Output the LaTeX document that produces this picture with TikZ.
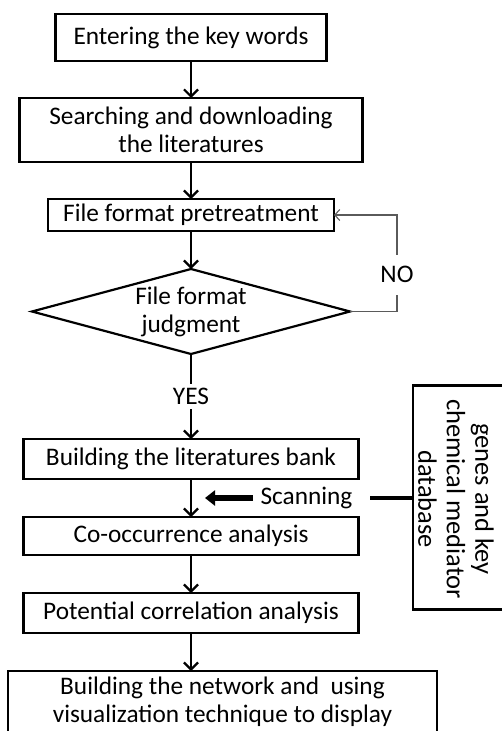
\documentclass[tikz,border=0pt]{standalone}
\usepackage{fontspec}
\setmainfont{Carlito}
\usetikzlibrary{shapes.geometric,arrows.meta,positioning,calc}
\definecolor{loopgray}{HTML}{5A5A5A}

\begin{document}
\begin{tikzpicture}[
    x=1pt,y=-1pt,
    node distance=38pt,
    font=\fontsize{25.3}{28}\selectfont,
    box/.style={draw,line width=2.2pt,inner sep=0pt,outer sep=0pt,align=center,minimum width=335pt,minimum height=40pt},
    decide/.style={draw,diamond,line width=2.2pt,inner sep=-10pt,outer sep=0pt,align=center,minimum width=318pt,minimum height=85pt,aspect=3.74},
    arrow/.style={-{Straight Barb[length=7pt,width=14pt]},line width=2.2pt},
    back/.style={-{Straight Barb[length=5pt,width=11pt]},draw=loopgray,line width=1.1pt},
    tag/.style={fill=white,inner xsep=3pt}
  ]
    \useasboundingbox (0,0) rectangle (502,731);
    \node[box,minimum width=271pt,minimum height=47pt] (keys) at (191,37.5) {Entering the key words};
    \node[box,minimum width=343pt,minimum height=64pt,below=37pt of keys] (search) {Searching and downloading\\the literatures};
    \node[box,minimum width=286pt,minimum height=32pt,below=37pt of search] (pretreat) {File format pretreatment};
    \node[decide,below=of pretreat] (judge) {File format\\judgment};
    \node[box,below=85pt of judge] (bank) {Building the literatures bank};
    \node[box,minimum height=38pt,below=of bank] (cooc) {Co-occurrence analysis};
    \node[box,below=of cooc] (corr) {Potential correlation analysis};
    \node[box,minimum width=429pt,minimum height=62pt,below=of corr,xshift=31.5pt] (net) {Building the network and \ using\\visualization technique to display};
    % database box, text set apart so it sits a bit left of the middle
    \node[box,rotate=-90,minimum width=224pt,minimum height=90pt] (db) at (458,497.5) {};
    \node[rotate=-90,align=center,font=\fontsize{26.5}{28.5}\selectfont] (dbtext) at (456,499) {genes and key\\chemical mediator\\database};
    \coordinate (hit) at ($(bank.south)!.5!(cooc.north)+(14,0)$);
    \node[right=52pt of hit] (scan) {Scanning};
    \draw[arrow] (keys) -- (search);
    \draw[arrow] (search) -- (pretreat);
    \draw[arrow] (pretreat) -- (judge);
    \draw[arrow] (judge) -- node[tag,inner ysep=4pt]{YES} (bank);
    \draw[back] (judge.east) -- ++(47,0) |- node[tag,pos=.19,inner ysep=12pt]{NO} (pretreat.east);
    \draw[arrow] (bank) -- (cooc);
    \draw[arrow] (cooc) -- (corr);
    \draw[arrow] (corr) -- (corr |- net.north);
    \draw[line width=5.5pt,-{Triangle[length=10pt,width=15pt]}] ([xshift=-4pt]scan.west) -- (hit);
    \draw[line width=3.5pt] (db.south |- scan) -- ([xshift=14pt]scan.east);
  \end{tikzpicture}
\end{document}
